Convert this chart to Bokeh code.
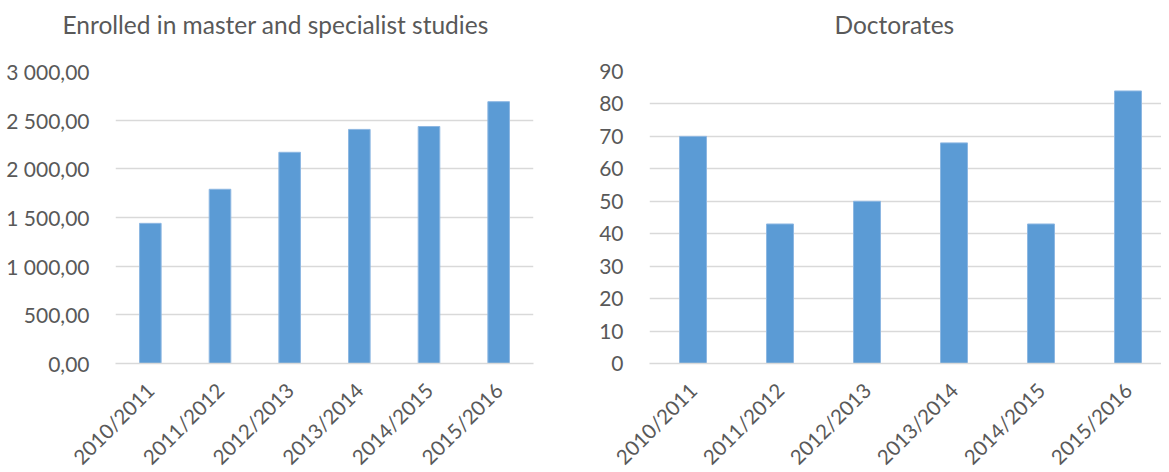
from bokeh.plotting import figure
from bokeh.layouts import row
from bokeh.models import FixedTicker, Range1d, Title
from bokeh.embed import file_html
from bokeh.resources import INLINE

years = ["2010/2011", "2011/2012", "2012/2013", "2013/2014", "2014/2015", "2015/2016"]
enrolled = [1440, 1790, 2170, 2405, 2435, 2690]
doctorates = [70, 43, 50, 68, 43, 84]

y_ticks_left = [0, 500, 1000, 1500, 2000, 2500, 3000]
y_labels_left = ["0,00", "500,00", "1 000,00", "1 500,00", "2 000,00", "2 500,00", "3 000,00"]
y_ticks_right = [0, 10, 20, 30, 40, 50, 60, 70, 80, 90]
y_labels_right = [str(t) for t in y_ticks_right]

FONT = "Lato"
GREY = "#595959"
GRID = "#d9d9d9"
BAR = "#5b9bd5"


def make(title, values, yticks, ylabels, ymax, xend, fw, bl, br, toff):
    xs = list(range(len(years)))
    p = figure(frame_width=fw, frame_height=292, output_backend="svg", toolbar_location=None,
               x_range=Range1d(-0.5, xend), y_range=Range1d(0, ymax),
               min_border_left=bl, min_border_right=br, min_border_top=0,
               min_border_bottom=100)
    spacer = Title(text=" ", text_font=FONT, text_font_size="10px", standoff=12)
    real = Title(text=title, text_font=FONT, text_font_size="24.5px",
                 text_font_style="normal", text_color=GREY, align="left",
                 offset=toff, standoff=14)
    p.add_layout(spacer, "above")
    p.add_layout(real, "above")
    p.outline_line_color = None
    p.background_fill_color = "white"
    p.border_fill_color = "white"

    p.vbar(x=xs, top=values, width=0.31, bottom=0, fill_color=BAR,
           line_color="#8db7e2", line_width=1)

    p.xaxis.ticker = FixedTicker(ticks=xs)
    p.xaxis.major_label_overrides = {i: y for i, y in zip(xs, years)}
    p.xaxis.major_label_orientation = 0.785398
    p.yaxis.ticker = FixedTicker(ticks=yticks)
    p.yaxis.major_label_overrides = {t: l for t, l in zip(yticks, ylabels)}
    for ax in (p.xaxis, p.yaxis):
        ax.major_tick_line_color = None
        ax.minor_tick_line_color = None
        ax.major_label_text_font = FONT
        ax.major_label_text_color = GREY
    p.yaxis.major_label_text_font_size = "21px"
    p.xaxis.major_label_text_font_size = "20.5px"
    p.yaxis.axis_line_color = None
    p.xaxis.axis_line_color = GRID
    p.xaxis.axis_line_width = 1.5
    p.yaxis.major_label_standoff = 20
    p.xaxis.major_label_standoff = 17
    p.xgrid.grid_line_color = None
    p.ygrid.ticker = FixedTicker(ticks=yticks)
    p.ygrid.grid_line_color = GRID
    p.ygrid.grid_line_width = 1.5
    return p


p1 = make("Enrolled in master and specialist studies", enrolled, y_ticks_left, y_labels_left,
          3000, 5.5, 418, 115, 24, -53)
p2 = make("Doctorates", doctorates, y_ticks_right, y_labels_right,
          90, 5.385, 512, 92, 0, 185)

layout = row(p1, p2, spacing=0)
open("out.html", "w").write(file_html(layout, INLINE))
